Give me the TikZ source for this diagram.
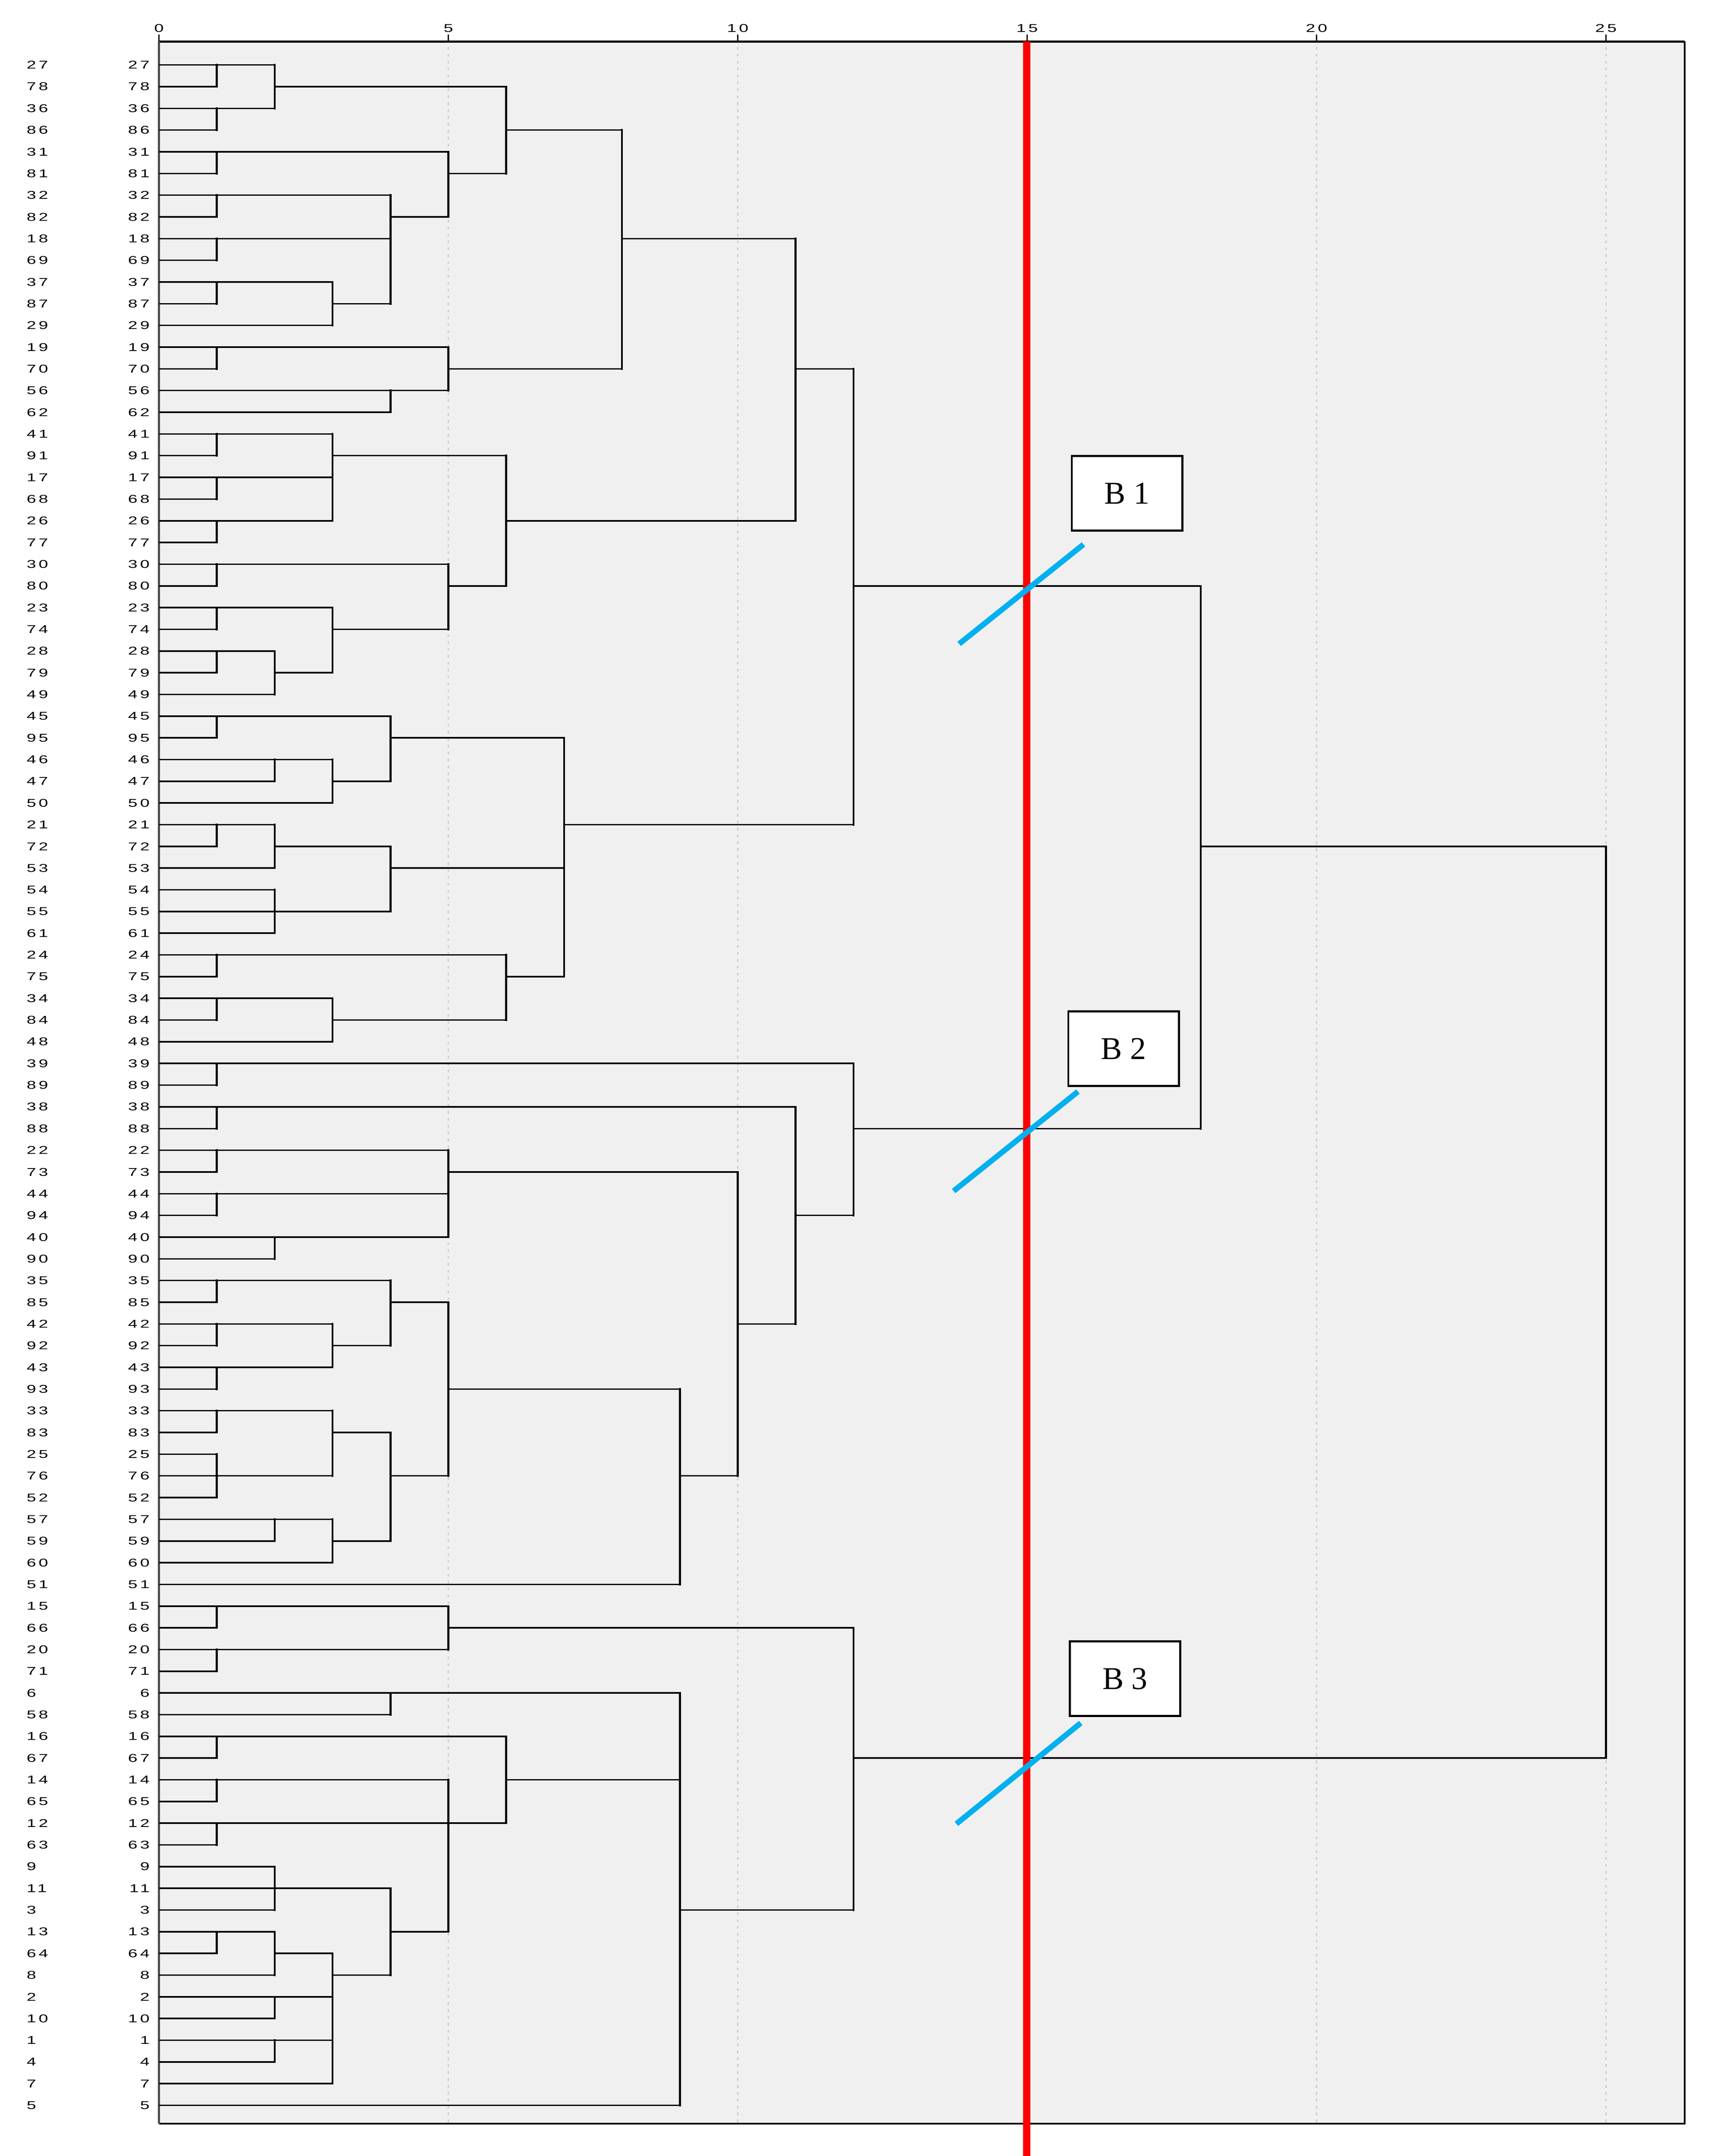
\documentclass[tikz,border=0pt]{standalone}
\usepackage{fontspec}
\newfontfamily\labfont{Liberation Sans}[LetterSpace=15]
\newfontfamily\boxfont{Liberation Serif}
\begin{document}
\begin{tikzpicture}[x=1pt,y=-1pt,
  seg/.style={line width=1.1pt,black},
  lab/.style={font=\labfont\fontsize{8.2}{9}\selectfont,inner sep=0pt,xscale=1.5},
  bbox/.style={draw,line width=1.5pt,fill=white,minimum width=80pt,minimum height=54pt,font=\boxfont\fontsize{23}{26}\selectfont},
  cut/.style={line width=4pt,color={rgb,255:red,0;green,176;blue,240}}]
\useasboundingbox (0,0) rectangle (1240,1560.4);
\fill[white] (0,0) rectangle (1240,1560.4);
\fill[gray!12] (115,30) rectangle (1219,1537);
\draw[line width=1pt] (115,1537) -- (1219,1537) -- (1219,30);
\draw[line width=1.5pt] (115,30) -- (1219,30);
\draw[line width=1.5pt,gray!60!black] (115,30) -- (115,1537);
% ticks and grid
\foreach \u in {0,5,...,25}{
  \pgfmathsetmacro\xx{115+41.88*\u}
  \draw[line width=1pt] (\xx,30) -- (\xx,25);
  \node[lab] (t\u) at (\xx,20.5) {\u};
}
\foreach \u in {5,10,...,25}{
  \pgfmathsetmacro\xx{115+41.88*\u}
  \draw[gray!40,line width=1pt,dash pattern=on 2pt off 3pt] (\xx,34) -- (\xx,1537);
}
% labels
\def\leaves{27,78,36,86,31,81,32,82,18,69,37,87,29,19,70,56,62,41,91,17,68,26,77,30,80,23,74,28,79,49,45,95,46,47,50,21,72,53,54,55,61,24,75,34,84,48,39,89,38,88,22,73,44,94,40,90,35,85,42,92,43,93,33,83,25,76,52,57,59,60,51,15,66,20,71,6,58,16,67,14,65,12,63,9,11,3,13,64,8,2,10,1,4,7,5}
\foreach \l [count=\i] in \leaves {
  \pgfmathsetmacro\yy{47+(\i-1)*15.71}
  \node[lab,anchor=east] (in\i) at (108.5,\yy) {\l};
  \node[lab,anchor=west] (out\i) at (19,\yy) {\l};
}
\begin{scope}[xshift=115pt,yshift=-31.29pt,x=41.88pt,y=-15.71pt]
\foreach \r/\a/\b in {1/0/2, 2/0/1, 3/0/2, 4/0/1, 2/2/6,
5/0/5, 6/0/1, 7/0/4, 8/0/1, 9/0/4, 10/0/1, 11/0/3, 12/0/1, 13/0/3, 12/3/4, 8/4/5, 6/5/6, 4/6/8,
14/0/5, 15/0/1, 16/0/5, 17/0/4, 15/5/8, 9/8/11, 15/11/12,
18/0/3, 19/0/1, 20/0/3, 21/0/1, 22/0/3, 23/0/1, 19/3/6, 22/6/11,
24/0/5, 25/0/1, 26/0/3, 27/0/1, 28/0/2, 29/0/1, 30/0/2, 29/2/3, 27/3/5, 25/5/6, 25/12/18,
31/0/4, 32/0/1, 33/0/3, 34/0/2, 35/0/3, 34/3/4, 32/4/7,
36/0/2, 37/0/1, 38/0/2, 37/2/4, 39/0/2, 40/0/4, 41/0/2, 38/4/7, 36/7/12,
42/0/6, 43/0/1, 44/0/3, 45/0/1, 46/0/3, 45/3/6, 43/6/7,
47/0/12, 48/0/1, 49/0/11, 50/0/1, 54/11/12, 50/12/18, 37/18/25,
51/0/5, 52/0/1, 53/0/5, 54/0/1, 55/0/5, 56/0/2, 52/5/10, 59/10/11,
57/0/4, 58/0/1, 59/0/3, 60/0/1, 61/0/3, 62/0/1, 60/3/4, 58/4/5, 62/5/9, 71/0/9, 66/9/10,
63/0/3, 64/0/1, 65/0/1, 66/0/3, 67/0/1, 64/3/4, 68/0/3, 69/0/2, 70/0/3, 69/3/4, 66/4/5,
72/0/5, 73/0/1, 74/0/5, 75/0/1, 73/5/12, 86/9/12, 79/12/25,
76/0/9, 77/0/4, 95/0/9, 80/6/9,
78/0/6, 79/0/1, 80/0/5, 81/0/1, 82/0/6, 83/0/1, 87/4/5,
84/0/2, 85/0/4, 86/0/2, 89/3/4, 87/0/2, 88/0/1, 89/0/2, 88/2/3, 90/0/3, 91/0/2, 92/0/3, 93/0/2, 94/0/3}
  \draw[seg] (\a,\r) -- (\b,\r);
\foreach \x/\a/\b in {1/1/2, 2/1/3, 1/3/4, 6/2/6,
1/5/6, 1/7/8, 1/9/10, 1/11/12, 3/11/13, 4/7/12, 5/5/8,
1/14/15, 4/16/17, 5/14/16, 8/4/15, 11/9/22, 12/15/36,
1/18/19, 1/20/21, 1/22/23, 3/18/22, 6/19/25,
1/24/25, 1/26/27, 1/28/29, 2/28/30, 3/26/29, 5/24/27,
1/31/32, 2/33/34, 3/33/35, 4/31/34, 7/32/43,
1/36/37, 2/36/38, 2/39/41, 4/37/40,
1/42/43, 1/44/45, 3/44/46, 6/42/45,
1/47/48, 12/47/54, 1/49/50, 11/49/59, 18/25/50, 25/37/79,
1/51/52, 1/53/54, 2/55/56, 5/51/55, 10/52/66,
1/57/58, 1/59/60, 1/61/62, 3/59/61, 4/57/60, 5/58/66, 9/62/71,
1/63/64, 1/65/67, 3/63/66, 2/68/69, 3/68/70, 4/64/69,
1/72/73, 1/74/75, 5/72/74, 12/73/86,
4/76/77, 9/76/95,
1/78/79, 1/80/81, 1/82/83, 6/78/82, 5/80/87,
2/84/86, 4/85/89, 1/87/88, 2/87/89, 3/88/94, 2/90/91, 2/92/93}
  \draw[seg,line width=1.4pt,line cap=rect] (\x,\a) -- (\x,\b);
\end{scope}
% cut line
\coordinate (rt) at (743,30);
\coordinate (rb) at (743,1561);
\draw[red,line width=5.3pt] (rt) -- (rb);
% boxes and slashes
\node[bbox] (B1) at (815.5,357) {B 1};
\node[bbox] (B2) at (813,759) {B 2};
\node[bbox] (B3) at (814,1215) {B 3};
\coordinate (c1a) at (694,466); \coordinate (c1b) at (784,394);
\coordinate (c2a) at (690,862); \coordinate (c2b) at (780,790);
\coordinate (c3a) at (692,1320); \coordinate (c3b) at (782,1247);
\draw[cut] (c1a) -- (c1b);
\draw[cut] (c2a) -- (c2b);
\draw[cut] (c3a) -- (c3b);
\end{tikzpicture}
\end{document}
